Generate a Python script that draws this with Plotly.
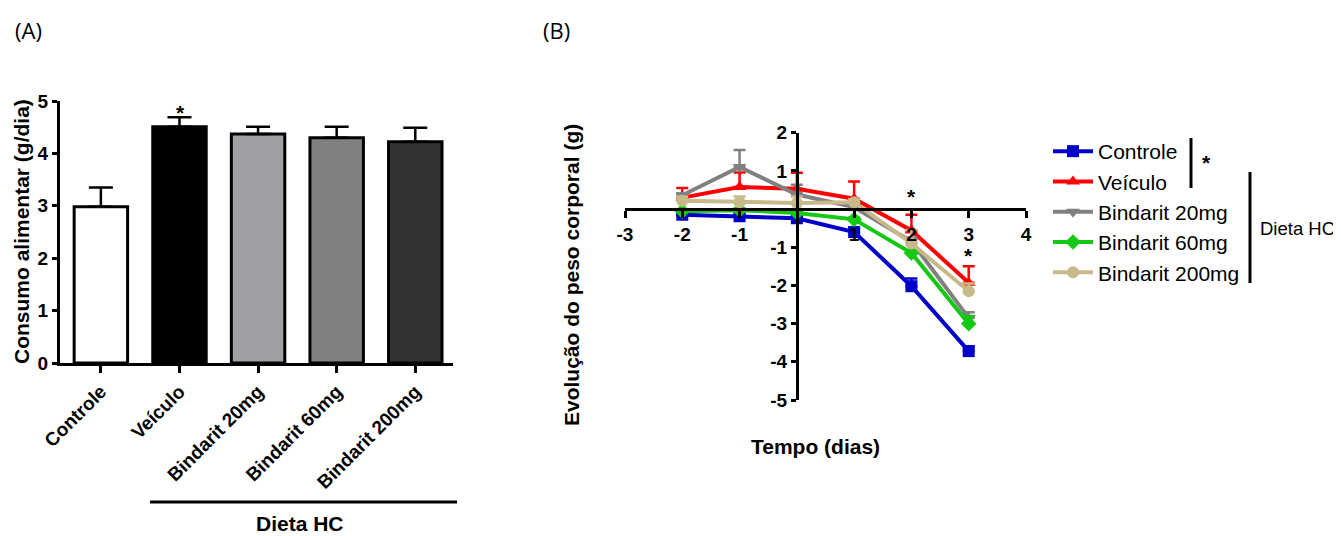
import plotly.graph_objects as go

# page body has an 8px margin: figure is sized so it fills the 1341x536 window
OFF = 8
W, H = 1341 - OFF, 536 - OFF
FONT = "Liberation Sans"

# ---------- Panel A data ----------
groups = ["Controle", "Veículo", "Bindarit 20mg", "Bindarit 60mg", "Bindarit 200mg"]
consumo = [2.98, 4.51, 4.37, 4.30, 4.22]
consumo_err = [0.37, 0.18, 0.14, 0.21, 0.27]
bar_colors = ["#ffffff", "#000000", "#a0a0a4", "#808080", "#333333"]
yticks_a = [0, 1, 2, 3, 4, 5]

# ---------- Panel B data ----------
dias = [-2, -1, 0, 1, 2, 3]
controle = [-0.15, -0.19, -0.24, -0.60, -2.02, -3.72]
controle_err = [0.05, 0.05, 0.05, 0.10, 0.20, 0.12]
veiculo = [0.30, 0.58, 0.53, 0.27, -0.56, -1.93]
veiculo_err = [0.25, 0.38, 0.42, 0.45, 0.41, 0.43]
b20 = [0.36, 1.10, 0.38, 0.05, -0.85, -2.85]
b20_err = [0.05, 0.45, 0.26, 0.10, 0.10, 0.15]
b60 = [-0.06, -0.03, -0.10, -0.27, -1.15, -3.00]
b60_err = [0.05, 0.05, 0.05, 0.05, 0.05, 0.20]
b200 = [0.22, 0.18, 0.16, 0.18, -0.90, -2.15]
b200_err = [0.10, 0.15, 0.17, 0.08, 0.35, 0.20]

line_names = ["Controle", "Veículo", "Bindarit 20mg", "Bindarit 60mg", "Bindarit 200mg"]
line_vals = [controle, veiculo, b20, b60, b200]
line_errs = [controle_err, veiculo_err, b20_err, b60_err, b200_err]
line_colors = ["#0000c8", "#ff0000", "#808080", "#14c814", "#c8b98a"]
line_symbols = ["square", "triangle-up", "triangle-down", "diamond", "circle"]

xticks_b = [-3, -2, -1, 1, 2, 3, 4]
yticks_b = [2, 1, -1, -2, -3, -4, -5]

fig = go.Figure()

# Panel A bars
fig.add_trace(go.Bar(
    x=list(range(len(groups))), y=consumo,
    marker=dict(color=bar_colors, line=dict(color="black", width=3)),
    width=0.68,
    error_y=dict(type="data", array=consumo_err, arrayminus=[0] * len(groups),
                 symmetric=False, color="black", thickness=2.5, width=12),
    showlegend=False, xaxis="x", yaxis="y",
))

# Panel B lines
for name, vals, errs, col, sym in zip(line_names, line_vals, line_errs, line_colors, line_symbols):
    fig.add_trace(go.Scatter(
        x=dias, y=vals, name=name, mode="lines+markers",
        line=dict(color=col, width=4),
        marker=dict(color=col, symbol=sym, size=12),
        error_y=dict(type="data", array=errs, arrayminus=[0] * len(errs),
                     symmetric=False, color=col, thickness=2.5, width=6),
        xaxis="x2", yaxis="y2",
    ))

px = lambda v: (v - OFF) / W
py = lambda v: 1 - (v - OFF) / H

tickfont = dict(family=FONT, size=19, color="black", weight="bold")
lab = lambda vals: [str(v) for v in vals]

fig.update_layout(
    width=W, height=H,
    margin=dict(l=0, r=0, t=0, b=0, autoexpand=False),
    paper_bgcolor="white", plot_bgcolor="rgba(0,0,0,0)",
    font=dict(family=FONT, color="black"),
    xaxis=dict(domain=[px(60), px(453)], range=[-0.52, 4.48],
               tickmode="array", tickvals=list(range(len(groups))), ticktext=groups,
               tickangle=-45, tickfont=dict(family=FONT, size=19, color="black", weight="bold"),
               showline=True, linecolor="black", linewidth=3,
               ticks="outside", ticklen=7, tickwidth=3, tickcolor="black",
               showgrid=False, zeroline=False, anchor="y", automargin=False),
    yaxis=dict(domain=[py(363), py(101)], range=[0, 5],
               tickmode="array", tickvals=yticks_a, ticktext=lab(yticks_a), tickfont=tickfont,
               showline=True, linecolor="black", linewidth=3,
               ticks="outside", ticklen=5, tickwidth=3, tickcolor="black",
               showgrid=False, zeroline=False, anchor="x", automargin=False),
    xaxis2=dict(domain=[px(625), px(1026)], range=[-3, 4],
                tickmode="array", tickvals=xticks_b, ticktext=lab(xticks_b), tickfont=tickfont,
                showline=True, linecolor="black", linewidth=3,
                ticks="outside", ticklen=7, tickwidth=3, tickcolor="black",
                showgrid=False, zeroline=False, automargin=False,
                anchor="free", position=py(208.7)),
    yaxis2=dict(domain=[py(400), py(132.7)], range=[-5, 2],
                tickmode="array", tickvals=yticks_b, ticktext=lab(yticks_b), tickfont=tickfont,
                showline=True, linecolor="black", linewidth=3,
                ticks="outside", ticklen=5, tickwidth=3, tickcolor="black",
                showgrid=False, zeroline=False, automargin=False,
                anchor="free", position=px(797)),
    legend=dict(x=px(1048), y=py(131), xanchor="left", yanchor="top",
                font=dict(family=FONT, size=21, color="black"),
                itemwidth=40, bgcolor="rgba(0,0,0,0)", tracegroupgap=0),
)

ann = []
def add_text(x, y, text, size, bold=False, angle=0, xref="paper", yref="paper", family=FONT):
    ann.append(dict(x=x, y=y, xref=xref, yref=yref, text=text,
                    showarrow=False, textangle=angle, xanchor="center", yanchor="middle",
                    font=dict(family=family, size=size, color="black",
                              weight="bold" if bold else "normal")))

add_text(px(28), py(30), "(A)", 22, family="Open Sans")
add_text(px(556), py(30), "(B)", 22, family="Open Sans")
add_text(px(21), py(232), "Consumo alimentar (g/dia)", 21, bold=True, angle=-90)
add_text(px(300), py(523), "Dieta HC", 21, bold=True)
add_text(px(180), py(112), "*", 21, bold=True)
add_text(px(571), py(275), "Evolução do peso corporal (g)", 21, bold=True, angle=-90)
add_text(px(815), py(446), "Tempo (dias)", 21, bold=True)
add_text(2, 0.32, "*", 21, bold=True, xref="x2", yref="y2")
add_text(3, -1.22, "*", 21, bold=True, xref="x2", yref="y2")
add_text(px(1206), py(162), "*", 21, bold=True)
add_text(px(1297), py(228), "Dieta HC", 18.5)
fig.update_layout(annotations=ann)

shapes = [
    dict(type="line", xref="paper", yref="paper", x0=px(150), x1=px(457), y0=py(502), y1=py(502),
         line=dict(color="black", width=3)),
    dict(type="line", xref="paper", yref="paper", x0=px(1191), x1=px(1191), y0=py(138), y1=py(188),
         line=dict(color="black", width=3)),
    dict(type="line", xref="paper", yref="paper", x0=px(1250), x1=px(1250), y0=py(172), y1=py(283),
         line=dict(color="black", width=3)),
]
fig.update_layout(shapes=shapes)

fig.write_html("out.html")
